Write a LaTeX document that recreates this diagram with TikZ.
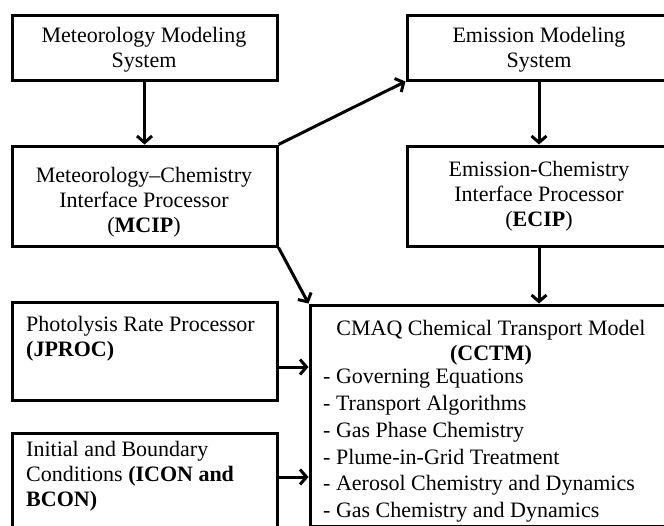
\documentclass[tikz,border=0pt]{standalone}
\usepackage{fontspec}
\setmainfont{Liberation Serif}
\usetikzlibrary{arrows.meta,calc}
\begin{document}
\begin{tikzpicture}[x=1pt,y=-1pt,
  box/.style={draw,line width=3pt,inner sep=0pt,rectangle},
  txt/.style={font=\fontsize{22}{25}\selectfont,inner sep=0pt},
  arr/.style={line width=3pt,-{Straight Barb[length=6.5pt,width=15pt]}}]
\useasboundingbox (0,0) rectangle (664,525);
\clip (0,0) rectangle (664,525);
% boxes
\node[box,minimum width=265pt,minimum height=65pt] (met) at (144.5,47.5) {};
\node[box,minimum width=265pt,minimum height=100pt] (mcip) at (144.5,196) {};
\node[box,minimum width=264pt,minimum height=65pt] (ems) at (539,47.5) {};
\node[box,minimum width=264pt,minimum height=100pt] (ecip) at (539,196) {};
\node[box,minimum width=265pt,minimum height=98pt] (jproc) at (144.5,351) {};
\node[box,minimum width=265pt,minimum height=107pt] (icon) at (144.5,486.5) {};
\node[box,minimum width=370pt,minimum height=221pt] (cctm) at (495,415.5) {};
% texts
\node[txt,align=center] (tmet) at (144,50) {Meteorology Modeling\\System};
\node[txt,align=center] (tmcip) at (144,202) {Meteorology--Chemistry\\Interface Processor\\(\textbf{MCIP})};
\node[txt,align=center] (tems) at (539,50) {Emission Modeling\\System};
\node[txt,align=center] (tecip) at (539,196) {Emission-Chemistry\\Interface Processor\\(\textbf{ECIP})};
\node[txt,align=left,anchor=north west] (tjproc) at (26,316) {Photolysis Rate Processor\\\textbf{(JPROC)}};
\node[txt,align=left,anchor=north west] (ticon) at (26,441) {Initial and Boundary\\Conditions \textbf{(ICON and}\\\textbf{BCON)}};
\node[txt,align=center,anchor=north] (tcctm) at (491,320) {CMAQ Chemical Transport Model\\\textbf{(CCTM)}};
\node[txt,align=left,anchor=north west,font=\fontsize{22}{26.8}\selectfont] (tlist) at (323,369) {- Governing Equations\\- Transport Algorithms\\- Gas Phase Chemistry\\- Plume-in-Grid Treatment\\- Aerosol Chemistry and Dynamics\\- Gas Chemistry and Dynamics};
% connectors
\draw[arr] (met.south) -- (mcip.north);
\draw[arr] (mcip.north east) -- (ems.south west);
\draw[arr] (ems.south) -- (ecip.north);
\draw[arr] (mcip.south east) -- (cctm.north west);
\draw[arr] (ecip.south) -- (ecip.south |- cctm.north);
\draw[arr] ([yshift=-16pt]jproc.east) -- ([yshift=-16pt]jproc.east -| cctm.west);
\draw[arr] ([yshift=9.5pt]icon.east) -- ([yshift=9.5pt]icon.east -| cctm.west);
\end{tikzpicture}
\end{document}
